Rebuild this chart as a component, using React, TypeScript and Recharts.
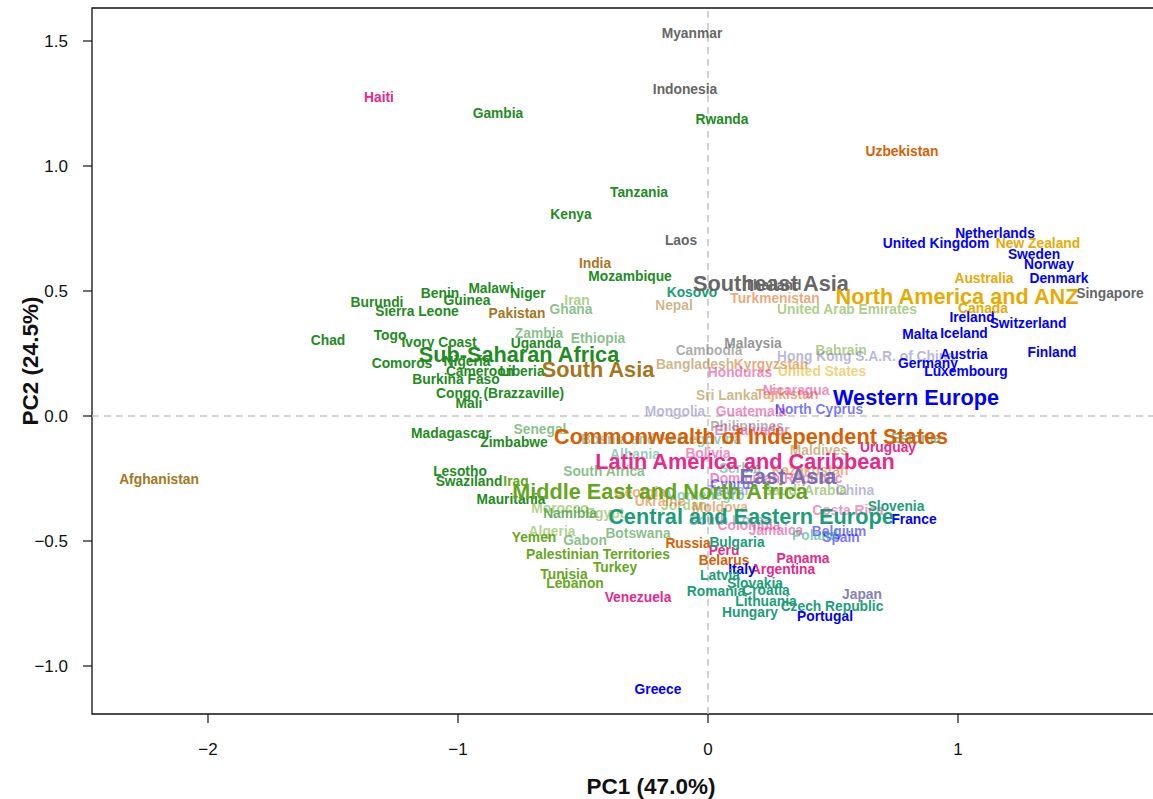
import {
  ScatterChart,
  Scatter,
  XAxis,
  YAxis,
  ReferenceLine,
  ReferenceArea,
  Label,
} from "recharts";

// [country, PC1, PC2, alpha weight]
type Row = [string, number, number, number];

const subSaharanAfrica: Row[] = [
  ["Gambia", -0.84, 1.212, 1],
  ["Rwanda", 0.056, 1.188, 1],
  ["Tanzania", -0.276, 0.896, 1],
  ["Kenya", -0.548, 0.808, 1],
  ["Mozambique", -0.312, 0.56, 1],
  ["Malawi", -0.868, 0.512, 1],
  ["Niger", -0.72, 0.492, 1],
  ["Benin", -1.072, 0.492, 1],
  ["Guinea", -0.964, 0.464, 1],
  ["Burundi", -1.324, 0.456, 1],
  ["Sierra Leone", -1.164, 0.42, 1],
  ["Ghana", -0.548, 0.428, 0.55],
  ["Zambia", -0.676, 0.332, 0.55],
  ["Ethiopia", -0.44, 0.312, 0.55],
  ["Uganda", -0.688, 0.292, 1],
  ["Chad", -1.52, 0.304, 1],
  ["Togo", -1.272, 0.324, 1],
  ["Ivory Coast", -1.076, 0.296, 1],
  ["Nigeria", -0.964, 0.22, 1],
  ["Comoros", -1.224, 0.212, 1],
  ["Cameroon", -0.912, 0.18, 1],
  ["Liberia", -0.744, 0.18, 1],
  ["Burkina Faso", -1.008, 0.148, 1],
  ["Congo (Brazzaville)", -0.832, 0.092, 1],
  ["Mali", -0.956, 0.052, 1],
  ["Madagascar", -1.028, -0.068, 1],
  ["Zimbabwe", -0.776, -0.104, 1],
  ["Senegal", -0.672, -0.052, 0.55],
  ["Lesotho", -0.992, -0.22, 1],
  ["Swaziland", -0.956, -0.26, 1],
  ["Mauritania", -0.788, -0.332, 1],
  ["South Africa", -0.416, -0.22, 0.55],
  ["Namibia", -0.552, -0.388, 0.7],
  ["Botswana", -0.28, -0.468, 0.55],
  ["Gabon", -0.492, -0.496, 0.55],
];

const southAsia: Row[] = [
  ["India", -0.452, 0.612, 1],
  ["Pakistan", -0.764, 0.412, 1],
  ["Nepal", -0.136, 0.444, 0.55],
  ["Bangladesh", -0.052, 0.208, 0.55],
  ["Sri Lanka", 0.076, 0.084, 0.55],
  ["Maldives", 0.444, -0.136, 0.55],
  ["Afghanistan", -2.196, -0.252, 1],
];

const southeastAsia: Row[] = [
  ["Myanmar", -0.064, 1.532, 1],
  ["Indonesia", -0.092, 1.308, 1],
  ["Laos", -0.108, 0.704, 1],
  ["Thailand", 0.26, 0.524, 1],
  ["Singapore", 1.608, 0.492, 1],
  ["Malaysia", 0.18, 0.292, 0.7],
  ["Cambodia", 0.004, 0.264, 0.55],
  ["Philippines", 0.156, -0.04, 0.5],
];

const middleEastNorthAfrica: Row[] = [
  ["Iran", -0.524, 0.464, 0.55],
  ["United Arab Emirates", 0.556, 0.428, 0.55],
  ["Bahrain", 0.532, 0.264, 0.55],
  ["Saudi Arabia", 0.388, -0.296, 0.55],
  ["Jordan", -0.096, -0.356, 0.5],
  ["Iraq", -0.768, -0.26, 1],
  ["Morocco", -0.592, -0.368, 0.5],
  ["Egypt", -0.412, -0.388, 0.5],
  ["Algeria", -0.624, -0.46, 0.5],
  ["Yemen", -0.696, -0.484, 1],
  ["Palestinian Territories", -0.44, -0.552, 1],
  ["Turkey", -0.372, -0.604, 1],
  ["Tunisia", -0.576, -0.632, 1],
  ["Lebanon", -0.532, -0.668, 1],
];

const commonwealthIndependentStates: Row[] = [
  ["Uzbekistan", 0.776, 1.06, 1],
  ["Turkmenistan", 0.268, 0.472, 0.55],
  ["Kyrgyzstan", 0.252, 0.208, 0.55],
  ["Tajikistan", 0.316, 0.088, 0.55],
  ["Kazakhstan", 0.408, -0.216, 0.5],
  ["Georgia", -0.272, -0.304, 0.5],
  ["Ukraine", -0.192, -0.34, 0.5],
  ["Moldova", 0.048, -0.364, 0.5],
  ["Russia", -0.08, -0.508, 1],
  ["Belarus", 0.064, -0.576, 1],
];

const latinAmericaCaribbean: Row[] = [
  ["Haiti", -1.316, 1.276, 1],
  ["Honduras", 0.128, 0.176, 0.55],
  ["Nicaragua", 0.352, 0.104, 0.55],
  ["Guatemala", 0.172, 0.02, 0.55],
  ["El Salvador", 0.176, -0.056, 0.55],
  ["Uruguay", 0.72, -0.124, 1],
  ["Bolivia", 0.0, -0.148, 0.55],
  ["Dominican Republic", 0.272, -0.248, 0.55],
  ["Costa Rica", 0.56, -0.376, 0.5],
  ["Colombia", 0.164, -0.436, 0.55],
  ["Jamaica", 0.272, -0.456, 0.55],
  ["Peru", 0.064, -0.536, 1],
  ["Panama", 0.38, -0.568, 1],
  ["Argentina", 0.3, -0.612, 1],
  ["Venezuela", -0.28, -0.724, 1],
];

const eastAsia: Row[] = [
  ["Hong Kong S.A.R. of China", 0.632, 0.24, 0.5],
  ["Mongolia", -0.132, 0.02, 0.5],
  ["China", 0.588, -0.296, 0.5],
  ["Taiwan", 0.088, -0.296, 0.5],
  ["South Korea", 0.088, -0.416, 0.5],
  ["Japan", 0.616, -0.712, 0.9],
];

const westernEurope: Row[] = [
  ["Netherlands", 1.148, 0.732, 1],
  ["United Kingdom", 0.912, 0.692, 1],
  ["Sweden", 1.304, 0.648, 1],
  ["Norway", 1.364, 0.608, 1],
  ["Denmark", 1.404, 0.552, 1],
  ["Ireland", 1.056, 0.396, 1],
  ["Switzerland", 1.28, 0.372, 1],
  ["Malta", 0.848, 0.328, 1],
  ["Iceland", 1.024, 0.332, 1],
  ["Finland", 1.376, 0.256, 1],
  ["Austria", 1.024, 0.248, 1],
  ["Germany", 0.88, 0.212, 1],
  ["Luxembourg", 1.032, 0.18, 1],
  ["North Cyprus", 0.444, 0.028, 0.55],
  ["Cyprus", 0.104, -0.272, 0.5],
  ["France", 0.824, -0.412, 1],
  ["Belgium", 0.524, -0.46, 0.55],
  ["Spain", 0.532, -0.484, 0.55],
  ["Italy", 0.136, -0.612, 1],
  ["Portugal", 0.468, -0.8, 1],
  ["Greece", -0.2, -1.092, 1],
];

const northAmericaANZ: Row[] = [
  ["New Zealand", 1.32, 0.692, 1],
  ["Australia", 1.104, 0.552, 1],
  ["Canada", 1.1, 0.432, 1],
  ["United States", 0.456, 0.18, 0.55],
];

const centralEasternEurope: Row[] = [
  ["Kosovo", -0.064, 0.496, 1],
  ["Estonia", 0.832, -0.088, 0.6],
  ["Bosnia and Herzegovina", -0.188, -0.092, 0.5],
  ["Albania", -0.292, -0.152, 0.5],
  ["Serbia", 0.128, -0.208, 0.5],
  ["Montenegro", -0.012, -0.316, 0.5],
  ["Slovenia", 0.752, -0.36, 1],
  ["Poland", 0.428, -0.476, 0.55],
  ["Bulgaria", 0.116, -0.504, 1],
  ["Latvia", 0.048, -0.636, 1],
  ["Slovakia", 0.188, -0.668, 1],
  ["Romania", 0.032, -0.7, 1],
  ["Croatia", 0.232, -0.696, 1],
  ["Lithuania", 0.232, -0.74, 1],
  ["Hungary", 0.168, -0.784, 1],
  ["Czech Republic", 0.496, -0.76, 1],
];

const regionNames = [
  "Southeast Asia",
  "North America and ANZ",
  "Sub-Saharan Africa",
  "South Asia",
  "Western Europe",
  "Commonwealth of Independent States",
  "Latin America and Caribbean",
  "East Asia",
  "Middle East and North Africa",
  "Central and Eastern Europe",
];
const regionPC1 = [0.252, 0.996, -0.756, -0.44, 0.832, 0.172, 0.148, 0.32, -0.192, 0.172];
const regionPC2 = [0.532, 0.48, 0.248, 0.188, 0.076, -0.08, -0.18, -0.24, -0.3, -0.4];

const xTicks = [-2, -1, 0, 1];
const yTicks = [-1, -0.5, 0, 0.5, 1, 1.5];
const xDomain: [number, number] = [-2.464, 2.008];
const yDomain: [number, number] = [-1.192, 1.632];

const COLORS: Record<string, string> = {
  "Sub-Saharan Africa": "#228B22",
  "South Asia": "#A6761D",
  "Southeast Asia": "#666666",
  "Middle East and North Africa": "#66A61E",
  "Commonwealth of Independent States": "#D95F02",
  "Latin America and Caribbean": "#E7298A",
  "East Asia": "#7570B3",
  "Western Europe": "#0000FF",
  "North America and ANZ": "#E6AB02",
  "Central and Eastern Europe": "#1B9E77",
};

const groups: { region: string; rows: Row[] }[] = [
  { region: "Sub-Saharan Africa", rows: subSaharanAfrica },
  { region: "South Asia", rows: southAsia },
  { region: "Southeast Asia", rows: southeastAsia },
  { region: "Middle East and North Africa", rows: middleEastNorthAfrica },
  { region: "Commonwealth of Independent States", rows: commonwealthIndependentStates },
  { region: "Latin America and Caribbean", rows: latinAmericaCaribbean },
  { region: "East Asia", rows: eastAsia },
  { region: "Western Europe", rows: westernEurope },
  { region: "North America and ANZ", rows: northAmericaANZ },
  { region: "Central and Eastern Europe", rows: centralEasternEurope },
];

const regionData = regionNames.map((name, i) => ({
  name,
  x: regionPC1[i],
  y: regionPC2[i],
}));

const FONT = "'Liberation Sans', Arial, Helvetica, sans-serif";
const fmt = (v: number, d: number) => v.toFixed(d).replace("-", "\u2212");

function textShape(color: string, size: number) {
  return (props: any) => {
    const { cx, cy, payload } = props;
    return (
      <text
        x={cx}
        y={cy}
        textAnchor="middle"
        dominantBaseline="central"
        fill={payload.color ?? color}
        fillOpacity={payload.alpha ?? 1}
        fontSize={size}
        fontWeight="bold"
        fontFamily={FONT}
      >
        {payload.name}
      </text>
    );
  };
}

export default function App() {
  return (
    <div
      style={{
        position: "absolute",
        left: 0,
        top: 0,
        width: 1153,
        height: 799,
        overflow: "hidden",
        background: "#fff",
        fontFamily: FONT,
      }}
    >
      <ScatterChart
        width={1212}
        height={799}
        margin={{ top: 8, right: 2, bottom: 0, left: 0 }}
      >
        <XAxis
          type="number"
          dataKey="x"
          domain={xDomain}
          ticks={xTicks}
          allowDataOverflow
          height={85}
          axisLine={false}
          tickSize={9}
          tickMargin={20}
          tickLine={{ stroke: "#111", strokeWidth: 1.2 }}
          tick={{ fontSize: 17, fill: "#111" }}
          tickFormatter={(v: number) => fmt(v, 0)}
        >
          <Label
            value="PC1 (47.0%)"
            position="insideBottom"
            offset={5}
            style={{ fontSize: 22.5, fontWeight: "bold", fill: "#111" }}
          />
        </XAxis>
        <YAxis
          type="number"
          dataKey="y"
          domain={yDomain}
          ticks={yTicks}
          allowDataOverflow
          width={92}
          axisLine={false}
          tickSize={9}
          tickMargin={15}
          tickLine={{ stroke: "#111", strokeWidth: 1.2 }}
          tick={{ fontSize: 17, fill: "#111" }}
          tickFormatter={(v: number) => fmt(v, 1)}
        >
          <Label
            value="PC2 (24.5%)"
            angle={-90}
            position="insideLeft"
            offset={30}
            style={{ fontSize: 22.5, fontWeight: "bold", fill: "#111", textAnchor: "middle" }}
          />
        </YAxis>
        <ReferenceLine x={0} stroke="#c4c4c4" strokeWidth={1.5} strokeDasharray="7 5" />
        <ReferenceLine y={0} stroke="#c4c4c4" strokeWidth={1.5} strokeDasharray="7 5" />
        <ReferenceArea
          x1={xDomain[0]}
          x2={xDomain[1]}
          y1={yDomain[0]}
          y2={yDomain[1]}
          fill="none"
          fillOpacity={0}
          stroke="#111"
          strokeWidth={1.3}
        />
        {groups.map((g) => (
          <Scatter
            key={g.region}
            name={g.region}
            data={g.rows.map(([name, x, y, alpha]) => ({ name, x, y, alpha }))}
            shape={textShape(COLORS[g.region], 13.8)}
            isAnimationActive={false}
          />
        ))}
        <Scatter
          name="regions"
          data={regionData.map((d) => ({ ...d, color: COLORS[d.name] }))}
          shape={textShape("#000", 21.7)}
          isAnimationActive={false}
        />
      </ScatterChart>
    </div>
  );
}
